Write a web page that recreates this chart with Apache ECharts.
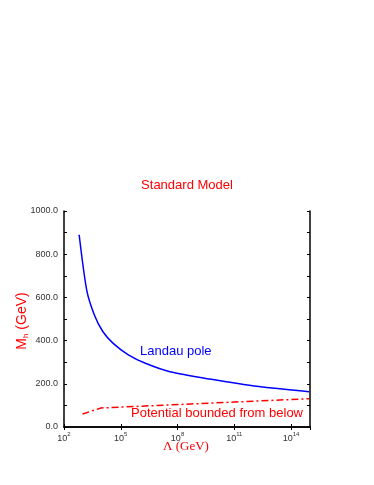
<!DOCTYPE html>
<html><head><meta charset="utf-8">
<script src="https://cdn.jsdelivr.net/npm/echarts@6/dist/echarts.min.js"></script>
<style>html,body{margin:0;padding:0;background:#fff}#c{width:374px;height:485px}</style>
</head><body><div id="c"></div>
<script>
// Landau pole curve: log10(Lambda/GeV) vs Mh (GeV)
const landauExp = [2.8, 3.2, 3.6, 4.05, 4.6, 5.4, 6.3, 7.6, 9.7, 12.3, 14.95];
const landauMh  = [890, 634, 520, 442, 387, 334, 295, 256, 222, 187, 163];
// Vacuum stability bound
const stabExp = [2.98, 3.95, 14.95];
const stabMh  = [60, 88, 131];
const xTickExps = [2, 5, 8, 11, 14];
const yTicks = [0, 200, 400, 600, 800, 1000];

const chart = echarts.init(document.getElementById('c'), null, {renderer:'canvas'});
const font = 'Liberation Sans, Arial, Helvetica, sans-serif';
const pair = (xs, ys) => xs.map((x,i)=>[x, ys[i]]);
const axLine = {show:true, lineStyle:{color:'#000', width:1.5}};

chart.setOption({
  animation:false,
  title:{text:'Standard Model', left:'center', top:174,
    textStyle:{color:'#ff0000', fontSize:13, fontWeight:'normal', fontFamily:font}},
  grid:{left:64, right:64, top:211, bottom:58, containLabel:false},
  xAxis:[{
    type:'value', min:2, max:15, interval:3, position:'bottom',
    axisLine:axLine, splitLine:{show:false},
    axisTick:{show:true, inside:true, length:3, lineStyle:{color:'#000'}},
    axisLabel:{showMaxLabel:false, margin:4, color:'#333', fontFamily:font,
      formatter:v=> xTickExps.includes(v) ? '{b|10}{p|'+v+'}' : '',
      rich:{b:{fontSize:9, fontFamily:font, color:'#333', verticalAlign:'bottom', lineHeight:12},
            p:{fontSize:6, fontFamily:font, color:'#333', verticalAlign:'top', lineHeight:12}}}
  },{
    type:'value', min:2, max:15, interval:3, position:'top',
    axisLine:axLine, splitLine:{show:false}, axisLabel:{show:false},
    axisTick:{show:true, inside:true, length:3, lineStyle:{color:'#000'}}
  }],
  yAxis:[{
    type:'value', min:0, max:1000, interval:200, position:'left',
    axisLine:axLine, splitLine:{show:false},
    axisTick:{show:true, inside:true, length:3, lineStyle:{color:'#000'}},
    minorTick:{show:true, splitNumber:2, length:3, lineStyle:{color:'#000'}},
    axisLabel:{margin:6, color:'#333', fontSize:9, fontFamily:font,
      formatter:v=> yTicks.includes(v) ? v.toFixed(1) : ''}
  },{
    type:'value', min:0, max:1000, interval:100, position:'right',
    axisLine:axLine, splitLine:{show:false}, axisLabel:{show:false},
    axisTick:{show:true, inside:true, length:3, lineStyle:{color:'#000'}}
  }],
  series:[
    {type:'line', data:pair(landauExp, landauMh), showSymbol:false, symbol:'none', smooth:0.25,
     lineStyle:{color:'#0000ff', width:1.5}},
    {type:'line', data:pair(stabExp, stabMh), showSymbol:false, symbol:'none',
     lineStyle:{color:'#ff0000', width:1.5, type:[7,3,2,3]}}
  ],
  graphic:[
    {type:'text', left:140, top:345, style:{text:'Landau pole', fill:'#0000ff', font:'13px '+font}},
    {type:'text', left:131, top:407, style:{text:'Potential bounded from below', fill:'#ff0000', font:'13px '+font}},
    {type:'text', x:186, y:447, style:{text:'\u039B (GeV)', fill:'#ff0000', font:'13px "Liberation Serif", "Times New Roman", serif', align:'center', verticalAlign:'middle'}},
    {type:'text', x:20, y:321, rotation:Math.PI/2,
     style:{text:'{m|M}{s|h}{m| (GeV)}', align:'center', verticalAlign:'middle',
       rich:{m:{fontSize:14, fontFamily:font, fill:'#ff0000', color:'#ff0000', lineHeight:15, verticalAlign:'bottom'},
             s:{fontSize:8, fontFamily:font, fill:'#ff0000', color:'#ff0000', lineHeight:19, verticalAlign:'bottom'}}}}
  ]
});
</script></body></html>
